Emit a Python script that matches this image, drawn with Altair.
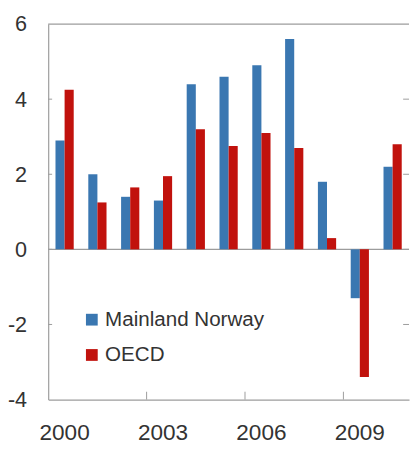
import altair as alt
import pandas as pd

# ---- data ----
years = [str(y) for y in range(2000, 2011)]
mainland_norway = [2.9, 2.0, 1.4, 1.3, 4.4, 4.6, 4.9, 5.6, 1.8, -1.3, 2.2]
oecd = [4.25, 1.25, 1.65, 1.95, 3.2, 2.75, 3.1, 2.7, 0.3, -3.4, 2.8]
series_names = ["Mainland Norway", "OECD"]
series_colors = ["#3a77b1", "#c1120d"]
y_ticks = [-4, -2, 0, 2, 4, 6]
x_labels = ["2000", "2003", "2006", "2009"]

rows = []
for yr, a, b in zip(years, mainland_norway, oecd):
    rows.append({"year": yr, "series": series_names[0], "value": a})
    rows.append({"year": yr, "series": series_names[1], "value": b})
df = pd.DataFrame(rows)

W, H = 368, 383
FONT = "Liberation Sans"
GRAY = "#9c9c9c"
TEXT = "#333333"

y_scale = alt.Scale(domain=[y_ticks[0], y_ticks[-1]], nice=False, zero=False)
x_scale = alt.Scale(domain=years, paddingInner=0, paddingOuter=0)

bars = alt.Chart(df).mark_bar().encode(
    x=alt.X("year:O", scale=x_scale,
            axis=alt.Axis(values=x_labels, title=None, labelAngle=0,
                          bandPosition=0.5, labelAlign="center")),
    xOffset=alt.XOffset("series:N", sort=series_names,
                        scale=alt.Scale(paddingInner=0, paddingOuter=0.8)),
    y=alt.Y("value:Q", scale=y_scale,
            axis=alt.Axis(values=y_ticks, title=None,
                          labelExpr="'' + datum.value")),
    color=alt.Color("series:N",
                    scale=alt.Scale(domain=series_names, range=series_colors),
                    legend=alt.Legend(title=None, orient="none", legendX=34, legendY=291,
                                      direction="vertical", symbolType="square",
                                      symbolSize=144, symbolStrokeWidth=0,
                                      labelFont=FONT, labelFontSize=21, labelColor=TEXT,
                                      labelLimit=0, labelOffset=3, rowPadding=14, padding=0)),
)

zero_df = pd.DataFrame({"v": [0]})
zero_line = alt.Chart(zero_df).mark_rule(color=GRAY, strokeWidth=1.2).encode(
    y=alt.Y("v:Q", scale=y_scale)
)

top_df = pd.DataFrame({"v": [y_ticks[-1]]})
top_line = alt.Chart(top_df).mark_rule(color=GRAY, strokeWidth=1.2).encode(
    y=alt.Y("v:Q", scale=y_scale)
)

inner_df = pd.DataFrame({"v": y_ticks[1:-1]})
left_ticks = alt.Chart(inner_df).mark_rule(color=GRAY, strokeWidth=1).encode(
    y=alt.Y("v:Q", scale=y_scale), x=alt.value(0), x2=alt.value(4)
)
right_ticks = alt.Chart(inner_df).mark_rule(color=GRAY, strokeWidth=1).encode(
    y=alt.Y("v:Q", scale=y_scale), x=alt.value(W - 6), x2=alt.value(W)
)

bt_df = pd.DataFrame({"year": x_labels[1:]})
bottom_ticks = alt.Chart(bt_df).mark_rule(color=GRAY, strokeWidth=1).encode(
    x=alt.X("year:O", scale=x_scale, bandPosition=0),
    y=alt.value(H - 8), y2=alt.value(H),
)

chart = alt.layer(
    zero_line, top_line, left_ticks, right_ticks, bottom_ticks, bars
).properties(
    width=W, height=H,
    autosize=alt.AutoSizeParams(type="none"),
    padding={"left": 41, "top": 12, "right": 1, "bottom": 45},
).configure_view(
    strokeWidth=0
).configure_axis(
    labelFont=FONT, labelFontSize=22, labelColor=TEXT,
    domainColor=GRAY, domainWidth=1.2, ticks=False, grid=False,
).configure_axisX(
    labelPadding=34, labelFontSize=23, labelAlign="center"
).configure_axisY(
    labelPadding=22
)

chart.save("out.html", embed_options={"renderer": "svg", "actions": False})
